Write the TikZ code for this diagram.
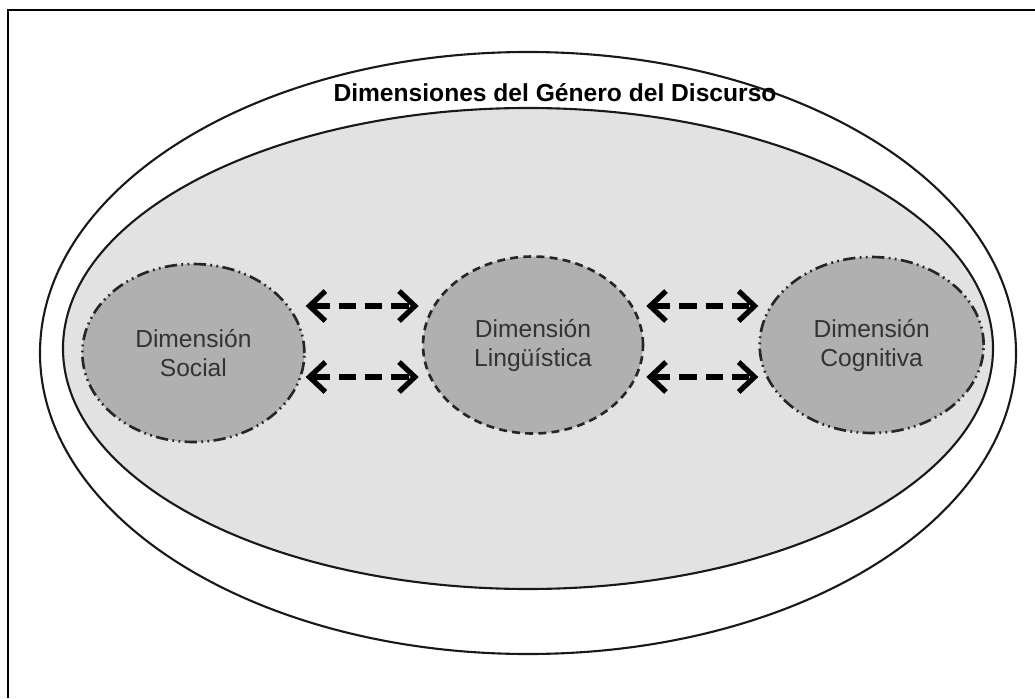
\documentclass[tikz,border=0pt]{standalone}
\usepackage{fontspec}
\setmainfont{Liberation Sans}
\usetikzlibrary{positioning,shapes.geometric,arrows.meta,calc}
\definecolor{fondoclaro}{gray}{0.885}
\definecolor{fondodim}{gray}{0.69}
\tikzset{
  >={Straight Barb[length=9pt,width=17pt,line width=3pt]},
  dimnode/.style={
    ellipse,
    fill=fondodim,
    draw=black!85, line width=1.5pt,
    text=black!80,
    inner sep=0pt,
    align=center,
    font=\fontsize{14}{16.5}\selectfont
  },
  dimpunto/.style={dimnode,
    dash pattern=on 7pt off 2.5pt on 1pt off 2.5pt on 1pt off 2.5pt},
  dimguion/.style={dimnode, dash pattern=on 4.5pt off 3pt},
  flecha/.style={<->, line width=3.3pt, dash pattern=on 10pt off 5pt},
  borde/.style={draw=black!90, line width=1.2pt},
}

\begin{document}
\begin{tikzpicture}[node distance=2.3cm]
  \useasboundingbox (0,0) rectangle (20.7,13.96);
  % marco
  \draw[line width=1.2pt] (0.16,0) -- (0.16,13.76) -- (20.7,13.76);
  % elipses exteriores
  \draw[borde] (10.56,6.90) ellipse [x radius=9.76, y radius=6.02];
  \draw[borde, fill=fondoclaro] (10.56,6.99) ellipse [x radius=9.30, y radius=4.81];
  \node[font=\bfseries\fontsize{14}{16}\selectfont] (gen) at (11.10,12.10)
    {Dimensiones del Género del Discurso};
  % dimensiones
  \node[dimguion, minimum width=4.40cm, minimum height=3.54cm] (ling) at (10.66,7.06)
    {Dimensión\\Lingüística};
  \node[dimpunto, minimum width=4.44cm, minimum height=3.56cm,
    left=2.32cm of ling, yshift=-0.16cm] (soc) {Dimensión\\Social};
  \node[dimpunto, minimum width=4.48cm, minimum height=3.52cm,
    right=2.28cm of ling] (cog) {Dimensión\\Cognitiva};
  % flechas
  \coordinate (arr) at ([yshift=0.78cm]ling.center);
  \coordinate (abj) at ([yshift=-0.64cm]ling.center);
  \draw[flecha] (soc.east |- arr) -- ([xshift=-0.06cm]ling.west |- arr);
  \draw[flecha] (soc.east |- abj) -- ([xshift=-0.06cm]ling.west |- abj);
  \draw[flecha] ([xshift=0.04cm]ling.east |- arr) -- (cog.west |- arr);
  \draw[flecha] ([xshift=0.04cm]ling.east |- abj) -- (cog.west |- abj);
\end{tikzpicture}
\end{document}
